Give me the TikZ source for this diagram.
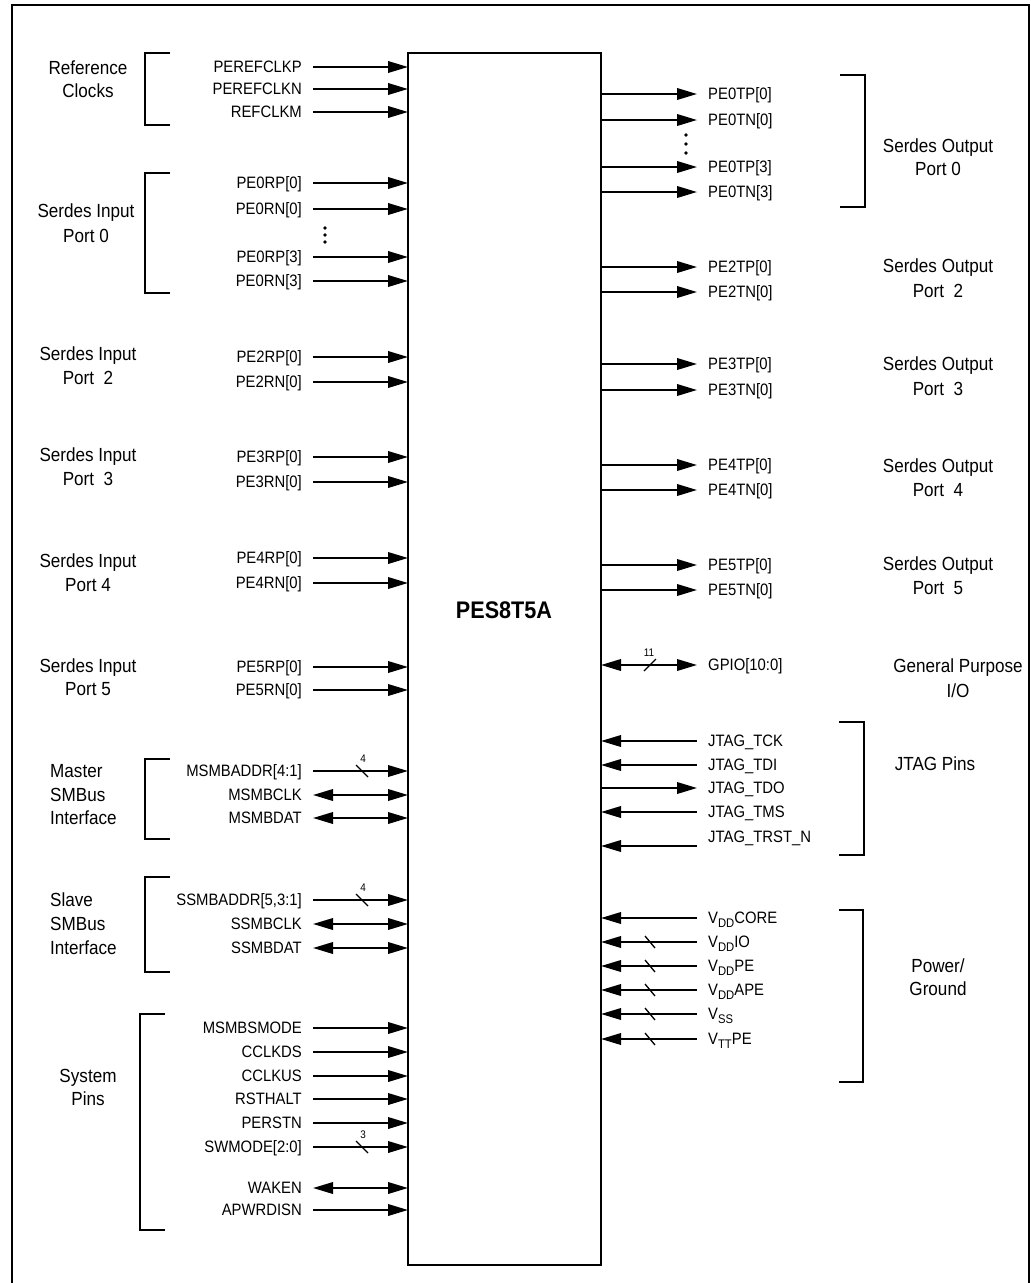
\documentclass[tikz,border=0pt]{standalone}
\usepackage{fontspec}
\setmainfont{Liberation Sans}[FakeStretch=0.9]
\usetikzlibrary{arrows.meta}
\newcommand{\vsub}[1]{\raisebox{-3.5pt}{\fontsize{12.5}{12.5}\selectfont #1}}
\begin{document}
\begin{tikzpicture}[x=1pt,y=-1pt,
  >={Triangle[length=20pt,width=11.5pt]},
  pinl/.style={font=\fontsize{16.5}{18}\selectfont, inner sep=0pt, text height=11.7pt, text depth=0pt},
  grp/.style={font=\fontsize{19}{#1}\selectfont, inner sep=0pt, align=center},
  grp/.default=23.5,
  sig/.style={line width=2pt},
  fw/.style={->},
  bk/.style={<-},
  bi/.style={<->},
  brk/.style={line width=2pt},
  bus/.style={line width=1.3pt},
  buslbl/.style={font=\fontsize{11}{11}\selectfont, inner sep=0pt},
  dotm/.style={fill=black}
]
\useasboundingbox (0,0) rectangle (1031,1283);
% outer frame
\draw[line width=2pt] (12,1285) -- (12,5) -- (1029,5) -- (1029,1285);
% chip
\node[draw, line width=2pt, outer sep=0pt, inner sep=0pt, minimum width=193pt, minimum height=1212pt] (chip) at (504.5,659) {};
\node[font=\fontsize{24}{24}\selectfont\bfseries, inner sep=0pt] (chipname) at (504,610) {PES8T5A};

% left pins
\foreach \y/\t/\a [count=\i] in {
  67/PEREFCLKP/fw, 89/PEREFCLKN/fw, 112/REFCLKM/fw,
  183/PE0RP[0]/fw, 209/PE0RN[0]/fw, 257/PE0RP[3]/fw, 281/PE0RN[3]/fw,
  357/PE2RP[0]/fw, 382/PE2RN[0]/fw, 457/PE3RP[0]/fw, 482/PE3RN[0]/fw,
  558/PE4RP[0]/fw, 583/PE4RN[0]/fw, 667/PE5RP[0]/fw, 690/PE5RN[0]/fw,
  771/MSMBADDR[4:1]/fw, 795/MSMBCLK/bi, 818/MSMBDAT/bi,
  900/{SSMBADDR[5,3:1]}/fw, 924/SSMBCLK/bi, 948/SSMBDAT/bi,
  1028/MSMBSMODE/fw, 1052/CCLKDS/fw, 1076/CCLKUS/fw, 1099/RSTHALT/fw,
  1123/PERSTN/fw, 1147/SWMODE[2:0]/fw, 1188/WAKEN/bi, 1210/APWRDISN/fw}{
  \node[pinl, anchor=east] (L\i) at (302,\y) {\t};
  \draw[sig,\a] ([xshift=11pt]L\i.east) -- (L\i.east -| chip.west);
}

% right pins
\foreach \y/\t/\a/\o [count=\i] in {
  94/PE0TP[0]/fw/0, 120/PE0TN[0]/fw/0, 167/PE0TP[3]/fw/0, 192/PE0TN[3]/fw/0,
  267/PE2TP[0]/fw/0, 292/PE2TN[0]/fw/0, 364/PE3TP[0]/fw/0, 390/PE3TN[0]/fw/0,
  465/PE4TP[0]/fw/0, 490/PE4TN[0]/fw/0, 565/PE5TP[0]/fw/0, 590/PE5TN[0]/fw/0,
  665/GPIO[10:0]/bi/0,
  741/JTAG\_TCK/bk/0, 765/JTAG\_TDI/bk/0, 788/JTAG\_TDO/fw/0, 812/JTAG\_TMS/bk/0,
  837/JTAG\_TRST\_N/bk/-9,
  918/V\vsub{DD}CORE/bk/0, 942/V\vsub{DD}IO/bk/0, 966/V\vsub{DD}PE/bk/0,
  990/V\vsub{DD}APE/bk/0, 1014/V\vsub{SS}/bk/0, 1039/V\vsub{TT}PE/bk/0}{
  \node[pinl, anchor=west] (R\i) at (708,\y) {\t};
  \coordinate (Ra\i) at ([yshift=\o pt]R\i.west);
  \draw[sig,\a] (Ra\i -| chip.east) -- ([xshift=-11pt]Ra\i);
}

% ellipsis dots
\foreach \yy in {228,235,242} \fill[dotm] (325,\yy) circle[radius=1.9pt];
\foreach \yy in {135,144,153} \fill[dotm] (686,\yy) circle[radius=1.9pt];

% bus slashes (left)
\foreach \yy/\n in {771/4, 900/4, 1147/3}{
  \draw[bus] (356,\yy-6) -- (368,\yy+6);
  \node[buslbl] at (363,\yy-12) {\n};
}
% GPIO slash
\draw[bus] (644,671) -- (656,659);
\node[buslbl] (g11) at (649,653) {11};
% power slashes
\foreach \yy in {942,966,990,1014,1039}
  \draw[bus] (645,\yy-6) -- (655,\yy+6);

% brackets left
\draw[brk] (170,53) -- (145,53) -- (145,125) -- (170,125);
\draw[brk] (170,173) -- (145,173) -- (145,293) -- (170,293);
\draw[brk] (170,759) -- (145,759) -- (145,839) -- (170,839);
\draw[brk] (170,877) -- (145,877) -- (145,972) -- (170,972);
\draw[brk] (165,1014) -- (140,1014) -- (140,1230) -- (165,1230);
% brackets right
\draw[brk] (840,75) -- (865,75) -- (865,207) -- (840,207);
\draw[brk] (839,722) -- (864,722) -- (864,855) -- (839,855);
\draw[brk] (839,910) -- (863,910) -- (863,1082) -- (839,1082);

% group labels left
\node[grp=23] (gRC) at (88,79) {Reference\\Clocks};
\node[grp=25] (gI0) at (86,223) {Serdes Input\\Port 0};
\node[grp=24] (gI2) at (88,366) {Serdes Input\\Port\ \ 2};
\node[grp=24] (gI3) at (88,467) {Serdes Input\\Port\ \ 3};
\node[grp=24] (gI4) at (88,573) {Serdes Input\\Port 4};
\node[grp=23.5] (gI5) at (88,677) {Serdes Input\\Port 5};
\node[grp=23.5, align=left, anchor=west] (gMS) at (50,795) {Master\\SMBus\\Interface};
\node[grp=24, align=left, anchor=west] (gSS) at (50,924) {Slave\\SMBus\\Interface};
\node[grp=23] (gSP) at (88,1087) {System\\Pins};
% group labels right
\node[grp=23] (gO0) at (938,157) {Serdes Output\\Port 0};
\node[grp=25] (gO2) at (938,278) {Serdes Output\\Port\ \ 2};
\node[grp=25] (gO3) at (938,376) {Serdes Output\\Port\ \ 3};
\node[grp=24] (gO4) at (938,478) {Serdes Output\\Port\ \ 4};
\node[grp=24] (gO5) at (938,576) {Serdes Output\\Port\ \ 5};
\node[grp=25] (gGP) at (958,678) {General Purpose\\I/O};
\node[grp] (gJT) at (935,764) {JTAG Pins};
\node[grp=23] (gPG) at (938,977) {Power/\\Ground};
\end{tikzpicture}
\end{document}
